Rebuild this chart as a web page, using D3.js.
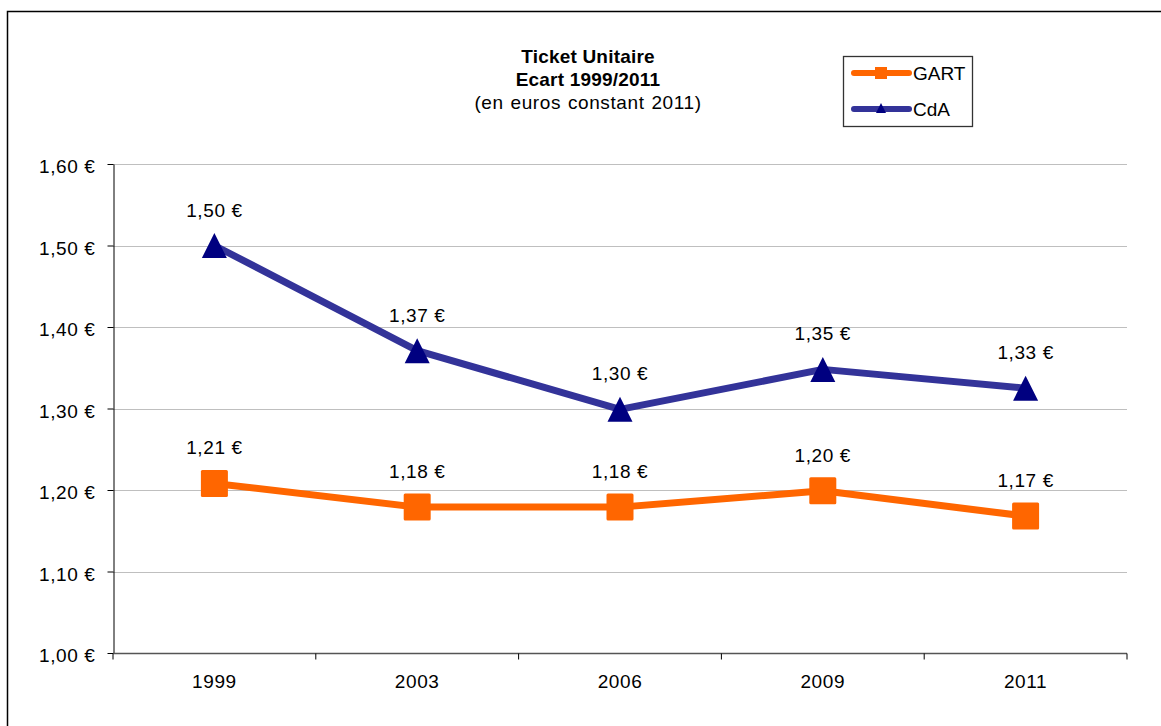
<!DOCTYPE html>
<html>
<head>
<meta charset="utf-8">
<script src="https://cdn.jsdelivr.net/npm/d3@7"></script>
<style>
  body { margin: 0; background: #fff; }
  svg { font-family: "Liberation Sans", Arial, sans-serif; }
</style>
</head>
<body>
<div id="chart"></div>
<script>
const width = 1161,
  height = 726,
  margin = { top: 164, bottom: 73, left: 113, right: 34 },
  fontSize = 19;

const years = ["1999", "2003", "2006", "2009", "2011"];
const gart = [1.208, 1.179, 1.179, 1.199, 1.168];
const cda = [1.50, 1.371, 1.299, 1.348, 1.325];
const gartLabels = ["1,21 €", "1,18 €", "1,18 €", "1,20 €", "1,17 €"];
const cdaLabels = ["1,50 €", "1,37 €", "1,30 €", "1,35 €", "1,33 €"];
const yTicks = [1.0, 1.1, 1.2, 1.3, 1.4, 1.5, 1.6];

const svg = d3.select("#chart")
  .append("svg")
  .attr("width", width)
  .attr("height", height);

// outer frame (cut by the window on right and bottom)
svg.append("rect")
  .attr("x", 7.5).attr("y", 11.5)
  .attr("width", width + 10).attr("height", height + 10)
  .attr("fill", "none").attr("stroke", "#000").attr("stroke-width", 1.5);

const xScale = d3.scaleBand()
  .domain(years)
  .range([margin.left, width - margin.right]);

const yScale = d3.scaleLinear()
  .domain([1.0, 1.6])
  .range([height - margin.bottom, margin.top]);

const fmt = d => d.toFixed(2).replace(".", ",") + " €";

// gridlines
svg.append("g")
  .selectAll("line")
  .data(yTicks.slice(1))
  .join("line")
  .attr("x1", margin.left)
  .attr("x2", width - margin.right)
  .attr("y1", d => Math.round(yScale(d)) + 0.5)
  .attr("y2", d => Math.round(yScale(d)) + 0.5)
  .attr("stroke", "#bfbfbf")
  .attr("stroke-width", 1.2);

// y axis
const yAxis = svg.append("g")
  .attr("transform", `translate(${margin.left + 0.5},0)`)
  .call(d3.axisLeft(yScale).tickValues(yTicks).tickFormat(fmt).tickSize(6).tickSizeOuter(0));
yAxis.select(".domain").attr("stroke", "#000");
yAxis.selectAll(".tick line").attr("stroke", "#000");
yAxis.selectAll(".tick text")
  .attr("x", -18)
  .attr("dy", "0.45em")
  .attr("font-size", fontSize)
  .attr("letter-spacing", 0.6)
  .attr("font-family", "Liberation Sans, Arial, sans-serif")
  .attr("fill", "#000");

// x axis
const xAxis = svg.append("g")
  .attr("transform", `translate(0,${height - margin.bottom + 0.5})`);
xAxis.append("line")
  .attr("x1", margin.left).attr("x2", width - margin.right)
  .attr("stroke", "#555").attr("stroke-width", 1.5);
xAxis.selectAll(".xtick")
  .data(years.concat(["end"]))
  .join("line")
  .attr("class", "xtick")
  .attr("x1", (d, i) => margin.left + i * xScale.step())
  .attr("x2", (d, i) => margin.left + i * xScale.step())
  .attr("y1", 0).attr("y2", 6)
  .attr("stroke", "#000");
xAxis.selectAll(".xlabel")
  .data(years)
  .join("text")
  .attr("class", "xlabel")
  .attr("x", d => xScale(d) + xScale.bandwidth() / 2)
  .attr("y", 34)
  .attr("text-anchor", "middle")
  .attr("font-size", fontSize)
  .attr("letter-spacing", 0.6)
  .text(d => d);

const cx = d => xScale(d) + xScale.bandwidth() / 2;

const line = d3.line()
  .x((d, i) => cx(years[i]))
  .y(d => yScale(d));

// tall triangle like Excel's marker
const excelTriangle = {
  draw(context, size) {
    const h = Math.sqrt(size) / 2;
    context.moveTo(0, -h);
    context.lineTo(h, h);
    context.lineTo(-h, h);
    context.closePath();
  }
};

// GART
svg.append("path")
  .datum(gart)
  .attr("d", line)
  .attr("fill", "none")
  .attr("stroke", "#ff6600")
  .attr("stroke-width", 7)
  .attr("stroke-linejoin", "round");

svg.selectAll(".sq")
  .data(gart)
  .join("rect")
  .attr("class", "sq")
  .attr("x", (d, i) => cx(years[i]) - 13.5)
  .attr("y", d => yScale(d) - 13.5)
  .attr("width", 27).attr("height", 27)
  .attr("rx", 1.5)
  .attr("fill", "#ff6600");

// CdA
svg.append("path")
  .datum(cda)
  .attr("d", line)
  .attr("fill", "none")
  .attr("stroke", "#333399")
  .attr("stroke-width", 7)
  .attr("stroke-linejoin", "round");

svg.selectAll(".tri")
  .data(cda)
  .join("path")
  .attr("class", "tri")
  .attr("d", d3.symbol().type(excelTriangle).size(625))
  .attr("transform", (d, i) => `translate(${cx(years[i])},${yScale(d)})`)
  .attr("fill", "#000080");

// data labels
svg.selectAll(".lblG")
  .data(gart)
  .join("text")
  .attr("class", "lblG")
  .attr("x", (d, i) => cx(years[i]))
  .attr("y", d => yScale(d) - 29)
  .attr("text-anchor", "middle")
  .attr("font-size", fontSize)
  .attr("letter-spacing", 0.6)
  .text((d, i) => gartLabels[i]);

svg.selectAll(".lblC")
  .data(cda)
  .join("text")
  .attr("class", "lblC")
  .attr("x", (d, i) => cx(years[i]))
  .attr("y", d => yScale(d) - 29)
  .attr("text-anchor", "middle")
  .attr("font-size", fontSize)
  .attr("letter-spacing", 0.6)
  .text((d, i) => cdaLabels[i]);

// title
const title = svg.append("text")
  .attr("text-anchor", "middle")
  .attr("font-size", fontSize);
title.append("tspan").attr("x", 588).attr("y", 63).attr("font-weight", "bold").attr("letter-spacing", 0.2).text("Ticket Unitaire");
title.append("tspan").attr("x", 588).attr("y", 86).attr("font-weight", "bold").attr("letter-spacing", 0.2).text("Ecart 1999/2011");
title.append("tspan").attr("x", 588).attr("y", 109).attr("letter-spacing", 0.6).attr("word-spacing", 1).text("(en euros constant 2011)");

// legend
const legend = svg.append("g").attr("transform", "translate(843,56)");
legend.append("rect")
  .attr("x", 0.5).attr("y", 0.5)
  .attr("width", 129).attr("height", 70)
  .attr("fill", "#fff").attr("stroke", "#333").attr("stroke-width", 1.3);
const legItems = [
  { name: "GART", color: "#ff6600", mark: "#ff6600", type: "sq" },
  { name: "CdA", color: "#333399", mark: "#000080", type: "tri" }
];
legItems.forEach((d, i) => {
  const y = 17 + i * 36;
  legend.append("line")
    .attr("x1", 11).attr("x2", 66)
    .attr("y1", y).attr("y2", y)
    .attr("stroke", d.color).attr("stroke-width", 6).attr("stroke-linecap", "round");
  if (d.type === "sq") {
    legend.append("rect").attr("x", 32).attr("y", y - 6).attr("width", 12).attr("height", 12).attr("fill", d.mark);
  } else {
    legend.append("path").attr("d", d3.symbol().type(excelTriangle).size(100)).attr("transform", `translate(38,${y - 1})`).attr("fill", d.mark);
  }
  legend.append("text")
    .attr("x", 70).attr("y", y + 7)
    .attr("font-size", fontSize)
    .text(d.name);
});
</script>
</body>
</html>
